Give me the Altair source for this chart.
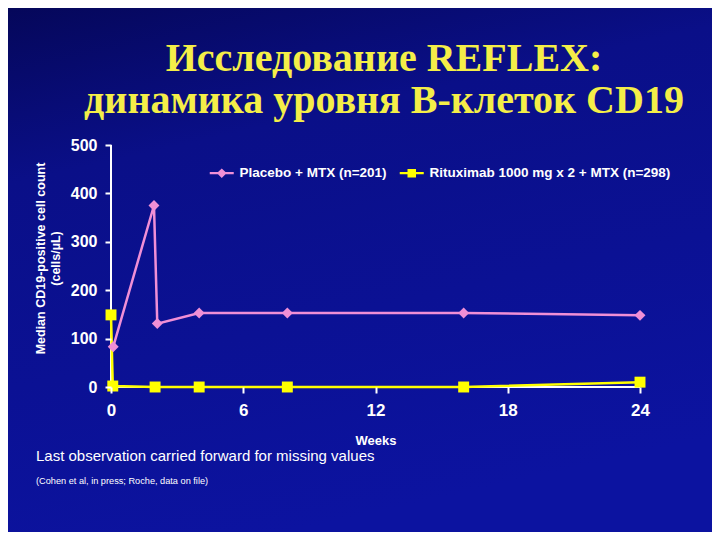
import altair as alt
import pandas as pd

# ---- data ----
series = ["Placebo + MTX (n=201)", "Rituximab 1000 mg x 2 + MTX (n=298)"]
colors = ["#f08fd6", "#ffff00"]
shapes = ["diamond", "square"]

placebo_weeks = [0.1, 1.95, 2.1, 4, 8, 16, 24]
placebo_values = [83, 375, 131, 153, 153, 153, 148]

ritux_weeks = [0, 0.08, 2, 4, 8, 16, 24]
ritux_values = [149, 2, 0, 0, 0, 0, 10]

x_ticks = [0, 6, 12, 18, 24]
y_ticks = [0, 100, 200, 300, 400, 500]

title_lines = ["Исследование REFLEX:", "динамика уровня В-клеток CD19"]
y_title = ["Median CD19-positive cell count", "(cells/µL)"]
x_title = "Weeks"
note_1 = "Last observation carried forward for missing values"
note_2 = "(Cohen et al, in press; Roche, data on file)"

rows = []
for i, (w, v) in enumerate(zip(placebo_weeks, placebo_values)):
    rows.append({"series": series[0], "week": w, "count": v, "order": i})
for i, (w, v) in enumerate(zip(ritux_weeks, ritux_values)):
    rows.append({"series": series[1], "week": w, "count": v, "order": i})
df = pd.DataFrame(rows)

W, H = 529, 242
PAD_L, PAD_T = 103, 137

diamond_path = "M-2.4,-0.22H-0.75L0,-0.95L0.75,-0.22H2.4V0.22H0.75L0,0.95L-0.75,0.22H-2.4Z"
square_path = "M-2.4,-0.22H-0.85V-0.85H0.85V-0.22H2.4V0.22H0.85V0.85H-0.85V0.22H-2.4Z"
shape_expr = f"datum.value === '{series[0]}' ? '{diamond_path}' : '{square_path}'"

legend = alt.Legend(
    title=None,
    orient="none",
    legendX=104,
    legendY=21,
    direction="horizontal",
    labelColor="white",
    labelFont="Liberation Sans",
    labelFontWeight="bold",
    labelFontSize=13.5,
    labelLimit=400,
    symbolSize=100,
    symbolType=alt.ExprRef(expr=shape_expr),
    symbolStrokeWidth=0,
    symbolOpacity=1,
    labelOffset=11,
    columnPadding=12,
    zindex=2,
)

x_scale = alt.Scale(domain=[0, 24], nice=False, zero=False)
y_scale = alt.Scale(domain=[0, 500], nice=False)

x_enc = alt.X(
    "week:Q",
    scale=x_scale,
    axis=alt.Axis(
        values=x_ticks,
        title=x_title,
        format="d",
        domain=False,
        labelFlush=False,
        labelFontSize=17,
        labelPadding=9,
        titleFontSize=13,
        titlePadding=16,
        zindex=1,
    ),
)
y_enc = alt.Y(
    "count:Q",
    scale=y_scale,
    axis=alt.Axis(
        values=y_ticks,
        title=y_title,
        domain=False,
        labelFlush=False,
        labelFontSize=16,
        labelPadding=8,
        titleFontSize=12.5,
        titlePadding=8,
        titleY=113,
        zindex=1,
    ),
)

# background gradient covering the whole chart (first layer, beneath everything)
bg = alt.Chart(alt.Data(values=[{}])).mark_rect(
    fill=alt.LinearGradient(
        gradient="linear",
        stops=[
            alt.GradientStop(color="#05075a", offset=0),
            alt.GradientStop(color="#0a0f88", offset=0.3),
            alt.GradientStop(color="#0c13a0", offset=1),
        ],
        x1=0, x2=0.3, y1=0, y2=1,
    ),
).encode(
    x=alt.value(-PAD_L),
    x2=alt.value(W + 90),
    y=alt.value(-PAD_T),
    y2=alt.value(H + 160),
)

# axis lines drawn under the data (through the scales)
x_axis_line = alt.Chart(alt.Data(values=[{}])).mark_rule(color="white", strokeWidth=2).encode(
    y=alt.YDatum(0),
    x=alt.XDatum(0),
    x2=alt.X2Datum(24),
)
y_axis_line = alt.Chart(alt.Data(values=[{}])).mark_rule(color="white", strokeWidth=2).encode(
    x=alt.XDatum(0),
    y=alt.YDatum(0),
    y2=alt.Y2Datum(500),
)

lines = alt.Chart(df).mark_line(strokeWidth=2.5).encode(
    x=x_enc,
    y=y_enc,
    stroke=alt.Stroke("series:N", scale=alt.Scale(domain=series, range=colors), legend=None),
    order="order:Q",
)

points = alt.Chart(df).mark_point(filled=True, opacity=1, size=120).encode(
    x="week:Q",
    y="count:Q",
    color=alt.Color("series:N", scale=alt.Scale(domain=series, range=colors), legend=legend),
    shape=alt.Shape("series:N", scale=alt.Scale(domain=series, range=shapes), legend=None),
)

title_text = alt.Chart(alt.Data(values=[{}])).mark_text(
    font="Liberation Serif", fontWeight="bold", fontSize=40, color="#f4ee48",
    align="center", baseline="alphabetic", lineHeight=42,
).encode(x=alt.value(273), y=alt.value(-74), text=alt.value(title_lines))

note1 = alt.Chart(alt.Data(values=[{}])).mark_text(
    font="Liberation Sans", fontSize=15, color="white", align="left", baseline="alphabetic",
).encode(x=alt.value(-75), y=alt.value(316), text=alt.value(note_1))

note2 = alt.Chart(alt.Data(values=[{}])).mark_text(
    font="Liberation Sans", fontSize=9.2, color="white", align="left", baseline="alphabetic",
).encode(x=alt.value(-75), y=alt.value(339), text=alt.value(note_2))

chart = (
    alt.layer(bg, x_axis_line, y_axis_line, lines, points, title_text, note1, note2)
    .resolve_scale(color="independent", stroke="independent")
    .properties(
        width=W,
        height=H,
        autosize=alt.AutoSizeParams(type="none"),
        padding={"left": PAD_L, "top": PAD_T, "right": 72, "bottom": 145},
        background="#0b1190",
    )
    .configure_view(stroke=None)
    .configure_axis(
        grid=False,
        tickColor="white",
        tickWidth=2,
        tickSize=6,
        labelColor="white",
        labelFont="Liberation Sans",
        labelFontWeight="bold",
        titleColor="white",
        titleFont="Liberation Sans",
        titleFontWeight="bold",
    )
)

chart.save("out.html", embed_options={"renderer": "svg", "actions": False})
